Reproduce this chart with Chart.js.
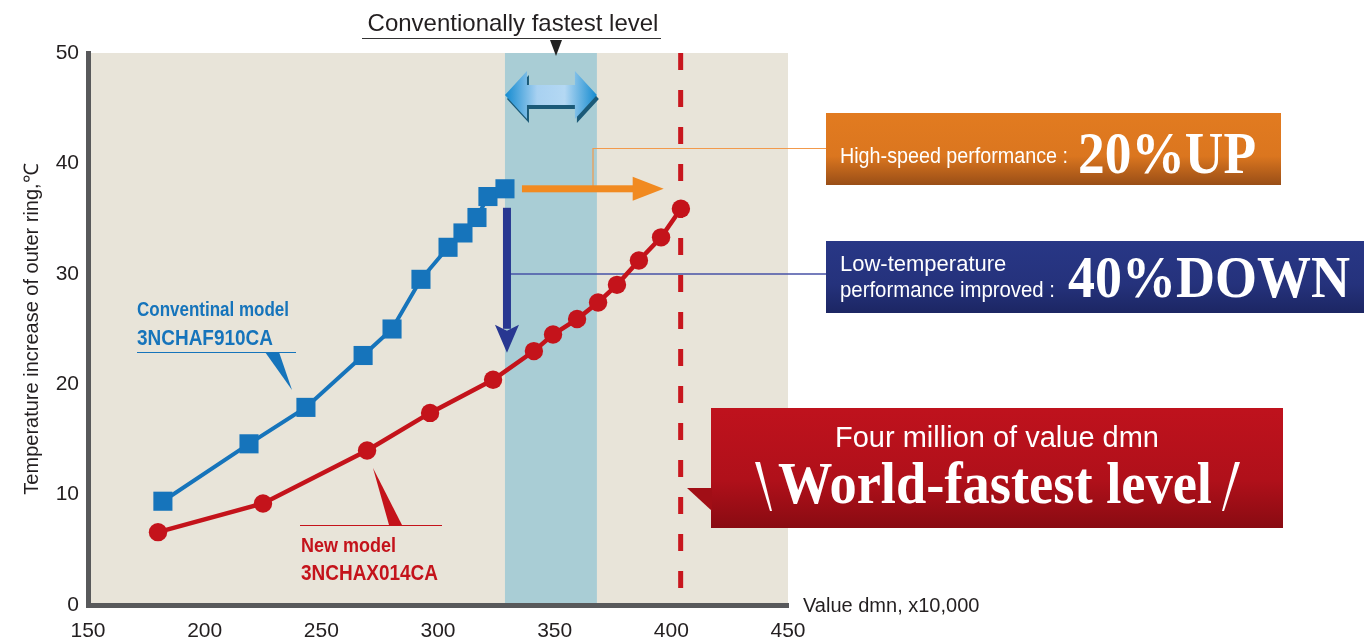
<!DOCTYPE html>
<html>
<head>
<meta charset="utf-8">
<title>Temperature increase vs dmn</title>
<script src="https://cdn.jsdelivr.net/npm/chart.js@4.4.1/dist/chart.umd.min.js"></script>
<style>
  body { margin: 0; background: #fff; }
  #wrap { width: 1366px; height: 640px; }
</style>
</head>
<body>
<div id="wrap"><canvas id="chart"></canvas></div>
<script>
// x = value dmn (x10,000), y = temperature increase of outer ring (deg C)
const convX = [182.1, 219.0, 243.4, 267.9, 280.3, 292.7, 304.3, 310.7, 316.7, 321.4, 328.7];
const convY = [9.4, 14.6, 17.9, 22.6, 25.0, 29.5, 32.4, 33.7, 35.1, 37.0, 37.7];
const newX = [180.0, 225.0, 269.6, 296.6, 323.6, 341.1, 349.3, 359.6, 368.6, 376.7, 386.1, 395.6, 404.1];
const newY = [6.6, 9.2, 14.0, 17.4, 20.4, 23.0, 24.5, 25.9, 27.4, 29.0, 31.2, 33.3, 35.9];
const xTicks = [150, 200, 250, 300, 350, 400, 450];
const yTicks = [0, 10, 20, 30, 40, 50];
const bandRange = [328.7, 368.1];   // conventionally fastest level
const worldFastest = 404;           // four million dmn line

const SANS = '"Liberation Sans Narrow", "Liberation Sans", Arial, sans-serif';
const SERIF = '"Liberation Serif", "Times New Roman", serif';
const INK = '#231f20';
const BLUE = '#1674bb';
const RED = '#c4131b';

function txt(ctx, s, x, y, font, color, align, maxW) {
  ctx.font = font;
  ctx.fillStyle = color;
  ctx.textAlign = align || 'left';
  ctx.textBaseline = 'alphabetic';
  if (maxW) ctx.fillText(s, x, y, maxW); else ctx.fillText(s, x, y);
}

function poly(ctx, pts, fill) {
  ctx.beginPath();
  ctx.moveTo(pts[0][0], pts[0][1]);
  for (let i = 1; i < pts.length; i++) ctx.lineTo(pts[i][0], pts[i][1]);
  ctx.closePath();
  ctx.fillStyle = fill;
  ctx.fill();
}

function line(ctx, pts, color, w) {
  ctx.beginPath();
  ctx.moveTo(pts[0][0], pts[0][1]);
  for (let i = 1; i < pts.length; i++) ctx.lineTo(pts[i][0], pts[i][1]);
  ctx.strokeStyle = color;
  ctx.lineWidth = w;
  ctx.stroke();
}

function box(ctx, x, y, w, h, stops) {
  const g = ctx.createLinearGradient(0, y, 0, y + h);
  stops.forEach(s => g.addColorStop(s[0], s[1]));
  ctx.fillStyle = g;
  ctx.fillRect(x, y, w, h);
}

function doubleArrow(ctx, x1, x2, yc) {
  const hl = 22, h = 24, s = 10;
  const pts = (dx, dy) => [
    [x1 + dx, yc + dy], [x1 + hl + dx, yc - h + dy], [x1 + hl + dx, yc - s + dy],
    [x2 - hl + dx, yc - s + dy], [x2 - hl + dx, yc - h + dy], [x2 + dx, yc + dy],
    [x2 - hl + dx, yc + h + dy], [x2 - hl + dx, yc + s + dy], [x1 + hl + dx, yc + s + dy],
    [x1 + hl + dx, yc + h + dy]
  ];
  poly(ctx, pts(2, 4), '#1b5a78');
  const g = ctx.createLinearGradient(x1, 0, x2, 0);
  g.addColorStop(0, '#148bd0');
  g.addColorStop(0.35, '#a8d1f1');
  g.addColorStop(0.65, '#b4d8f3');
  g.addColorStop(1, '#148bd0');
  poly(ctx, pts(0, 0), g);
}

const decor = {
  id: 'decor',
  beforeDraw(chart) {
    const { ctx, chartArea: a } = chart;
    ctx.save();
    ctx.fillStyle = '#e8e4d9';
    ctx.fillRect(a.left, a.top, a.right - a.left, a.bottom - a.top);
    ctx.restore();
  },
  beforeDatasetsDraw(chart) {
    const { ctx, chartArea: a, scales: { x, y } } = chart;
    ctx.save();
    // conventional fastest band
    const b1 = x.getPixelForValue(bandRange[0]), b2 = x.getPixelForValue(bandRange[1]);
    ctx.fillStyle = '#a9cdd5';
    ctx.fillRect(b1, a.top, b2 - b1, a.bottom - a.top - 2);
    // world fastest dashed line
    const xd = x.getPixelForValue(worldFastest);
    ctx.setLineDash([17, 20]);
    line(ctx, [[xd, a.top], [xd, a.bottom - 3]], '#c8161e', 5);
    ctx.setLineDash([]);
    doubleArrow(ctx, b1, b2, 95);

    // leader lines from arrows to boxes
    const lx = x.getPixelForValue(convX[convX.length - 1]);
    const ly = y.getPixelForValue(convY[convY.length - 1]);
    line(ctx, [[593, ly], [593, 148.5], [826, 148.5]], '#f29a4c', 1.2);
    line(ctx, [[lx + 2, 274], [826, 274]], '#4752a6', 1.5);
    ctx.restore();
  },
  afterDatasetsDraw(chart) {
    const { ctx, scales: { x, y } } = chart;
    ctx.save();
    const lx = x.getPixelForValue(convX[convX.length - 1]);
    const ly = y.getPixelForValue(convY[convY.length - 1]);
    const xd = x.getPixelForValue(worldFastest);

    // orange arrow: higher speed
    const ox1 = lx + 17, ox2 = xd - 17;
    ctx.fillStyle = '#f18a21';
    ctx.fillRect(ox1, ly - 3.5, ox2 - 30 - ox1, 7);
    poly(ctx, [[ox2 - 31, ly - 12], [ox2, ly], [ox2 - 31, ly + 12]], '#f18a21');

    // navy arrow: lower temperature
    const ny1 = ly + 19, ny2 = ly + 164;
    ctx.fillStyle = '#283791';
    ctx.fillRect(lx - 2, ny1, 8, ny2 - ny1 - 24);
    poly(ctx, [[lx - 10, ny2 - 28], [lx + 2, ny2 - 22], [lx + 14, ny2 - 28], [lx + 2, ny2]], '#283791');

    // top caption
    txt(ctx, 'Conventionally fastest level', 513, 31, '24px ' + SANS, INK, 'center', 294);
    line(ctx, [[362, 38.5], [661, 38.5]], '#333', 1);
    poly(ctx, [[550, 40], [562, 40], [556, 56]], '#222');

    // series callouts
    txt(ctx, 'Conventinal model', 137, 316, 'bold 20px ' + SANS, BLUE, 'left', 152);
    txt(ctx, '3NCHAF910CA', 137, 345, 'bold 22px ' + SANS, BLUE, 'left', 136);
    line(ctx, [[137, 352.5], [296, 352.5]], BLUE, 1);
    poly(ctx, [[265, 352], [279, 352], [292, 390]], BLUE);

    txt(ctx, 'New model', 301, 552, 'bold 20px ' + SANS, RED, 'left', 95);
    txt(ctx, '3NCHAX014CA', 301, 580, 'bold 22px ' + SANS, RED, 'left', 137);
    line(ctx, [[300, 525.5], [442, 525.5]], RED, 1);
    poly(ctx, [[373, 468], [389, 525], [402, 525]], RED);

    // x axis title
    txt(ctx, 'Value dmn, x10,000', 803, 612, '20px ' + SANS, INK, 'left', 187);

    // orange box
    box(ctx, 826, 113, 455, 72, [[0, '#e27b20'], [0.6, '#db761f'], [1, '#994e17']]);
    txt(ctx, 'High-speed performance :', 840, 163, '22px ' + SANS, '#fff', 'left', 228);
    txt(ctx, '20%UP', 1078, 173, 'bold 60px ' + SERIF, '#fff', 'left', 178);

    // navy box
    box(ctx, 826, 241, 538, 72, [[0, '#283786'], [0.6, '#25327c'], [1, '#1c2663']]);
    txt(ctx, 'Low-temperature', 840, 271, '22px ' + SANS, '#fff', 'left', 170);
    txt(ctx, 'performance improved :', 840, 297, '22px ' + SANS, '#fff', 'left', 215);
    txt(ctx, '40%DOWN', 1068, 297, 'bold 60px ' + SERIF, '#fff', 'left', 282);

    // red box with pointer
    box(ctx, 711, 408, 572, 120, [[0, '#bf121d'], [0.6, '#b0101a'], [1, '#890b12']]);
    poly(ctx, [[712, 488], [687, 488], [712, 511]], '#a10e16');
    txt(ctx, 'Four million of value dmn', 997, 447, '29px ' + SANS, '#fff', 'center', 331);
    txt(ctx, 'World-fastest level', 995, 503, 'bold 60px ' + SERIF, '#fff', 'center', 434);
    poly(ctx, [[755, 462], [760, 462], [772, 511], [770, 511]], '#fff');
    poly(ctx, [[1235, 462], [1240, 462], [1224, 511], [1222, 511]], '#fff');
    ctx.restore();
  }
};

Chart.defaults.font.family = '"Liberation Sans", Arial, sans-serif';
Chart.defaults.color = INK;

new Chart(document.getElementById('chart'), {
  type: 'line',
  data: {
    datasets: [
      {
        label: 'Conventinal model 3NCHAF910CA',
        data: convX.map((v, i) => ({ x: v, y: convY[i] })),
        borderColor: BLUE,
        backgroundColor: BLUE,
        borderWidth: 4,
        pointStyle: 'rect',
        pointRadius: 13.5,
        pointBorderWidth: 0,
        tension: 0
      },
      {
        label: 'New model 3NCHAX014CA',
        data: newX.map((v, i) => ({ x: v, y: newY[i] })),
        borderColor: RED,
        backgroundColor: RED,
        borderWidth: 4.5,
        pointStyle: 'circle',
        pointRadius: 9.2,
        pointBorderWidth: 0,
        tension: 0
      }
    ]
  },
  options: {
    responsive: true,
    maintainAspectRatio: false,
    animation: false,
    layout: { padding: { left: 20, top: 53, right: 578, bottom: 0 } },
    plugins: { legend: { display: false }, tooltip: { enabled: false } },
    scales: {
      x: {
        type: 'linear',
        min: xTicks[0],
        max: xTicks[xTicks.length - 1],
        afterBuildTicks: s => { s.ticks = xTicks.map(v => ({ value: v })); },
        afterFit: s => { s.height = 35; },
        grid: { display: false, drawTicks: false },
        border: { display: true, color: '#58595b', width: 5 },
        ticks: { font: { size: 21 }, color: INK, padding: 14, maxRotation: 0 }
      },
      y: {
        min: yTicks[0],
        max: yTicks[yTicks.length - 1],
        afterBuildTicks: s => { s.ticks = yTicks.map(v => ({ value: v })); },
        afterFit: s => { s.width = 68; },
        grid: { display: false, drawTicks: false },
        border: { display: true, color: '#58595b', width: 5 },
        ticks: { font: { size: 21 }, color: INK, padding: 9 },
        title: {
          display: true,
          text: 'Temperature increase of outer ring,℃',
          font: { size: 20 },
          color: INK,
          padding: { top: 0, bottom: 0 }
        }
      }
    }
  },
  plugins: [decor]
});
</script>
</body>
</html>
